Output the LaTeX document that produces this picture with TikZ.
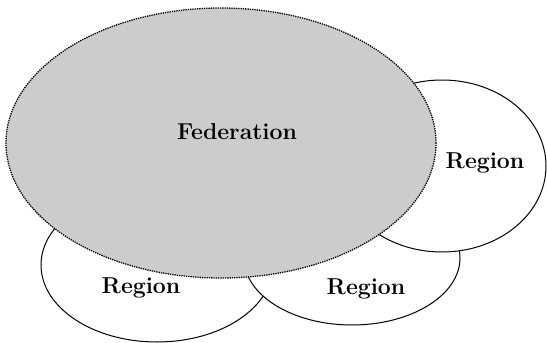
\documentclass[tikz,border=0pt]{standalone}
\usepackage{tikz}
\usetikzlibrary{shapes.geometric}

\begin{document}
\begin{tikzpicture}[x=1pt,y=-1pt,thick,
    region node/.style={ellipse,draw,fill=white,inner sep=0pt,line width=1pt},
    fed node/.style={ellipse,draw=black,densely dotted,fill=gray!40,inner sep=0pt,line width=1.3pt},
    name text/.style={font=\fontsize{23}{27}\selectfont\bfseries}]
				\useasboundingbox (0,0) rectangle (547,343);

				\node[region node,minimum width=232pt,minimum height=154pt] (RL) at (157,265) {};
				\node[region node,minimum width=216pt,minimum height=134pt] (RM) at (352,258) {};
				\node[region node,minimum width=208pt,minimum height=172pt] (RR) at (442,166) {};
				\node[fed node,minimum width=430pt,minimum height=270pt] (F) at (221,143) {};

				\node[name text] (Ftext) at (237,132) {Federation};
				\node[name text] (RLtext) at (141,288) {Region};
				\node[name text] (RMtext) at (366,289) {Region};
				\node[name text] (RRtext) at (485,163) {Region};

\end{tikzpicture}
\end{document}
